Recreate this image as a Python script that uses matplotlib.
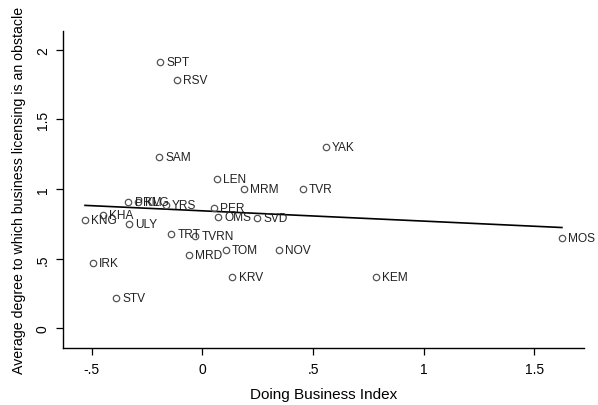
import matplotlib
matplotlib.use('Agg')
import matplotlib.pyplot as plt
import numpy as np

plt.rcParams['font.family'] = ['Liberation Sans', 'DejaVu Sans']

regions = ['SPT', 'RSV', 'SAM', 'LEN', 'MRM', 'PRM', 'KLG', 'YRS', 'PER', 'OMS',
           'SVD', 'KHA', 'KNG', 'ULY', 'TRT', 'TVRN', 'MRD', 'TOM', 'IRK', 'KRV',
           'YAK', 'TVR', 'NOV', 'KEM', 'MOS', 'STV']
dbi = [-0.192, -0.114, -0.195, 0.064, 0.186, -0.335, -0.29, -0.165, 0.052, 0.071,
       0.248, -0.451, -0.531, -0.331, -0.142, -0.034, -0.062, 0.106, -0.496, 0.135,
       0.558, 0.453, 0.346, 0.783, 1.625, -0.391]
obstacle = [1.914, 1.780, 1.228, 1.070, 1.003, 0.905, 0.91, 0.888, 0.864, 0.800,
            0.790, 0.816, 0.778, 0.747, 0.680, 0.666, 0.527, 0.563, 0.470, 0.369,
            1.300, 1.001, 0.565, 0.372, 0.651, 0.219]

xticks = [-0.5, 0, 0.5, 1, 1.5]
xticklabels = ['-.5', '0', '.5', '1', '1.5']
yticks = [0, 0.5, 1, 1.5, 2]
yticklabels = ['0', '.5', '1', '1.5', '2']

x = np.array(dbi)
y = np.array(obstacle)

fig = plt.figure(figsize=(5.98, 4.06), dpi=100)
ax = fig.add_axes([0.1059, 0.1397, 0.8707, 0.7822])

# scatter points (hollow circles) with labels
ax.plot(x, y, 'o', ms=4.6, mfc='none', mec='#555555', mew=0.9, zorder=3)
for name, xi, yi in zip(regions, x, y):
    ax.annotate(name, xy=(xi, yi), xytext=(4.5, 0), textcoords='offset points',
                fontsize=8.6, color='#222222', va='center', ha='left', zorder=4)

# linear fit
b, a = np.polyfit(x, y, 1)
xf = np.array([x.min(), x.max()])
ax.plot(xf, a + b*xf, color='black', lw=1.2, zorder=2)

ax.set_xlim(-0.629, 1.725)
ax.set_ylim(-0.142, 2.136)

ax.spines['right'].set_visible(False)
ax.spines['top'].set_visible(False)
ax.spines['left'].set_linewidth(1.0)
ax.spines['bottom'].set_linewidth(1.0)

ax.set_xticks(xticks)
ax.set_xticklabels(xticklabels)
ax.set_yticks(yticks)
ax.set_yticklabels(yticklabels, rotation=90, va='center')
ax.tick_params(axis='both', length=4.7, width=0.9, labelsize=10, pad=5)

ax.set_xlabel('Doing Business Index', fontsize=11, labelpad=8)
ax.set_ylabel('Average degree to which business licensing is an obstacle',
              fontsize=10.2, labelpad=7)

fig.savefig('out.png', dpi=100)
